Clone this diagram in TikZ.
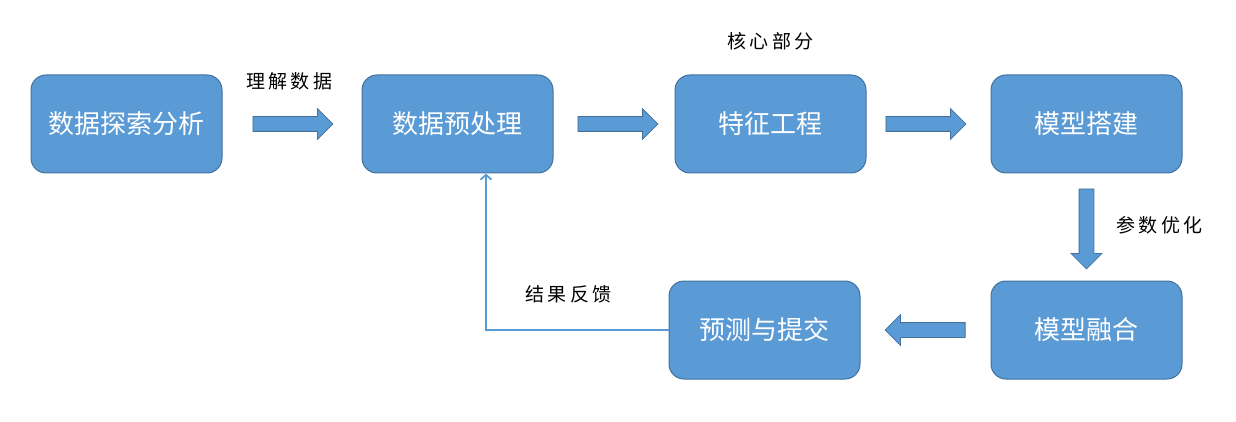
\documentclass[tikz,border=0pt]{standalone}
\usepackage{fontspec}
\newfontfamily\cjk{Noto Sans CJK SC}
\newfontfamily\cjknote[LetterSpace=18]{Noto Sans CJK SC}
\usetikzlibrary{positioning, shapes.arrows, arrows.meta}
\definecolor{boxblue}{HTML}{5B9BD5}
\definecolor{edgeblue}{HTML}{41719C}

\tikzset{
  stage/.style={draw=edgeblue, fill=boxblue, line width=1pt, rounded corners=15pt,
    minimum width=191pt, minimum height=98pt, text=white, font=\cjk\fontsize{26}{26}\selectfont},
  barrow/.style={single arrow, draw=edgeblue, fill=boxblue, line width=0.8pt,
    inner xsep=0pt, inner ysep=7pt, single arrow head extend=8pt,
    single arrow tip angle=90, minimum height=80pt, anchor=tail},
  varrow/.style={barrow, inner xsep=7pt, inner ysep=0pt, shape border rotate=270},
  note/.style={font=\cjknote\fontsize{19}{19}\selectfont},
  back/.style={draw=boxblue, line width=1.8pt, -{Straight Barb[length=5pt,width=11pt]}}
}

\begin{document}
\begin{tikzpicture}[node distance=10pt]
  \useasboundingbox (0,0) rectangle (1236pt,421pt);

  \node[stage] (A) at (126.5pt,297pt) {数据探索分析};
  \node[stage, right = 139pt of A] (B) {数据预处理};
  \node[stage, right = 121pt of B] (C) {特征工程};
  \node[stage, right = 124pt of C] (D) {模型搭建};
  \node[stage, below = 107pt of D] (E) {模型融合};
  \node[stage, left = 130pt of E]  (F) {预测与提交};

  % block arrows
  \node[barrow] (AB) at ([xshift=30pt]A.east) {};
  \node[barrow] (BC) at ([xshift=24pt]B.east) {};
  \node[barrow] (CD) at ([xshift=19pt]C.east) {};
  \node[varrow] (DE) at ([yshift=-15pt]D.south) {};
  \node[barrow, shape border rotate=180] (EF) at ([xshift=-25pt]E.west) {};

  \node[note] (AB1) at ([yshift=43pt]AB.center) {理解数据};
  \node[note] (C1)  at ([yshift=83pt]C.center) {核心部分};
  \node[note] (DE1) at ([xshift=73pt]DE.center) {参数优化};
  \node[note] (F1)  at ([xshift=-100pt,yshift=35.5pt]F.west) {结果反馈};

  \draw[back] (F.west) -| ([xshift=28.5pt]B.south);
\end{tikzpicture}
\end{document}
